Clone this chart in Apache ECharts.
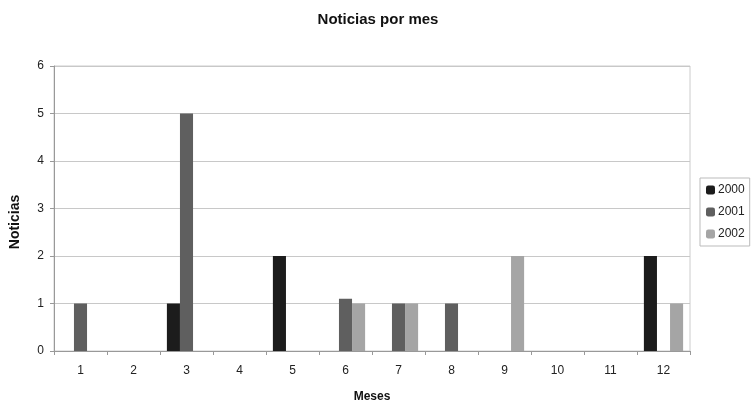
<!DOCTYPE html>
<html><head><meta charset="utf-8">
<script src="https://cdn.jsdelivr.net/npm/echarts@6/dist/echarts.min.js"></script>
<style>html,body{margin:0;padding:0;background:#fff}#c{width:756px;height:405px}</style>
</head><body><div id="c"></div>
<script>
const months = ['1','2','3','4','5','6','7','8','9','10','11','12'];
const s2000 = [0,0,1,0,2,0,0,0,0,0,0,2];
const s2001 = [1,0,5,0,0,1.1,1,1,0,0,0,0];
const s2002 = [0,0,0,0,0,1,1,0,2,0,0,1];
const yTicks = [0,1,2,3,4,5,6];
const chart = echarts.init(document.getElementById('c'));
const font = 'Liberation Sans, Arial, sans-serif';
chart.setOption({
  animation:false,
  backgroundColor:'#fff',
  textStyle:{fontFamily:font},
  title:{text:'Noticias por mes',left:'center',top:7,textStyle:{fontSize:15,fontWeight:'bold',color:'#111',fontFamily:font}},
  legend:{orient:'vertical',left:700,top:178,itemWidth:9,itemHeight:9,itemGap:10,
    borderColor:'#bbb',borderWidth:1,padding:[6,5,6,6],
    textStyle:{fontSize:12,color:'#222',padding:[0,0,0,-2]},
    data:['2000','2001','2002']},
  grid:{left:54,right:66,top:66,bottom:54,show:true,borderColor:'#ccc',borderWidth:1,outerBoundsMode:'none',containLabel:false},
  graphic:[{type:'text',rotation:Math.PI/2,x:15,y:222,
    style:{text:'Noticias',fontSize:14,fontWeight:'bold',fill:'#111',fontFamily:font,align:'center',verticalAlign:'middle'}}],
  xAxis:{type:'category',data:months,name:'Meses',nameLocation:'middle',nameGap:40,
    nameTextStyle:{fontWeight:'bold',fontSize:12,color:'#111'},
    axisLine:{lineStyle:{color:'#999'}},axisTick:{show:true,length:4,lineStyle:{color:'#999'}},
    axisLabel:{fontSize:12,color:'#222',margin:14}},
  yAxis:{type:'value',min:0,max:6,interval:1,
    axisLine:{show:true,lineStyle:{color:'#999'}},axisTick:{show:true,length:4,lineStyle:{color:'#999'}},
    axisLabel:{fontSize:12,color:'#222',margin:10,formatter:v=>yTicks.includes(v)?String(v):''},
    splitLine:{lineStyle:{color:'#c8c8c8'}}},
  series:[
    {name:'2000',type:'bar',data:s2000,itemStyle:{color:'#1c1c1c'},barGap:'0%',barCategoryGap:'26%'},
    {name:'2001',type:'bar',data:s2001,itemStyle:{color:'#5f5f5f'},barGap:'0%',barCategoryGap:'26%'},
    {name:'2002',type:'bar',data:s2002,itemStyle:{color:'#a5a5a5'},barGap:'0%',barCategoryGap:'26%'}
  ]
});
</script></body></html>
